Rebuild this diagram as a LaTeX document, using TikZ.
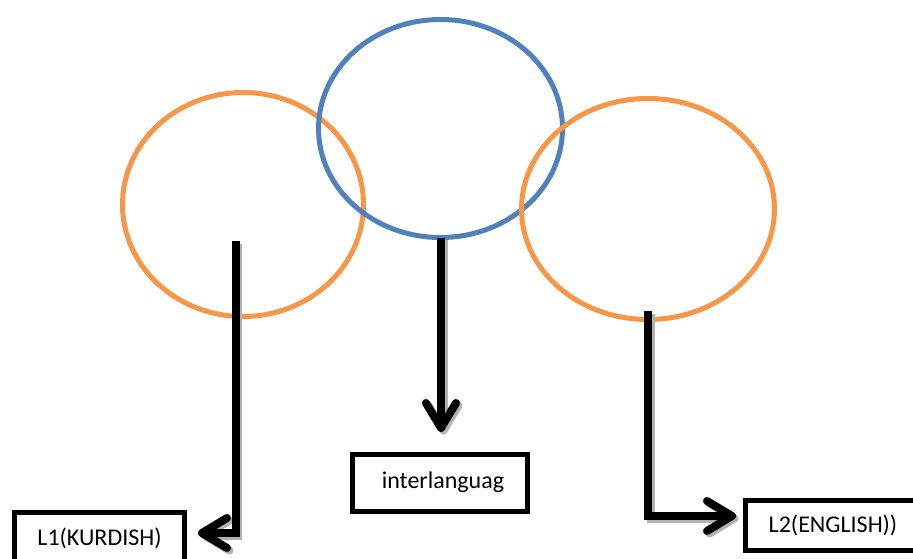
\documentclass[tikz,border=0pt]{standalone}
\usepackage{fontspec}
\setmainfont{Carlito}
\usetikzlibrary{shapes.geometric,arrows.meta}
\definecolor{offorange}{HTML}{F79646}
\definecolor{offblue}{HTML}{4F81BD}
\tikzset{
  circ/.style={ellipse, draw, line width=5pt, inner sep=0pt},
  labelbox/.style={rectangle, draw=black, line width=5pt, inner sep=0pt, font=\fontsize{24}{28}\selectfont},
  bigarrow/.style={line width=8pt, -{Straight Barb[length=25pt,width=30pt,round]}},
  shadowarrow/.style={bigarrow, draw=black!30, transform canvas={shift={(2.5,2.5)}}}
}
\begin{document}
\begin{tikzpicture}[x=1pt,y=-1pt]
\useasboundingbox (0,0) rectangle (913,559);
\clip (0,0) rectangle (913,559);
\fill[white] (0,0) rectangle (913,559);
% circles
\node[circ, draw=offorange, minimum width=241pt, minimum height=224pt] (left) at (243,204.5) {};
\node[circ, draw=offblue, minimum width=244pt, minimum height=218pt] (mid) at (440.5,128.5) {};
\node[circ, draw=offorange, minimum width=253pt, minimum height=221pt] (right) at (648,209) {};
% boxes
\node[labelbox, minimum width=170pt, minimum height=52pt] (k1) at (99.5,538) {L1(KURDISH)};
\node[labelbox, minimum width=175pt, minimum height=57pt] (il) at (439.5,482.5) {\hspace*{7pt}interlanguag};
\node[labelbox, minimum width=175pt, minimum height=50pt] (k2) at (833,525.5) {L2(ENGLISH))};
% arrow coordinates
\coordinate (ls) at (235.5,241);
\coordinate (le) at (198,533);
\coordinate (ms) at (441,237.5);
\coordinate (me) at (441,432);
\coordinate (rs) at (648,311);
\coordinate (re) at (736,516);
% shadows
\draw[shadowarrow] (ls) |- (le);
\draw[shadowarrow] (ms) -- (me);
\draw[shadowarrow] (rs) |- (re);
% arrows
\draw[bigarrow] (ls) |- (le);
\draw[bigarrow] (ms) -- (me);
\draw[bigarrow] (rs) |- (re);
\end{tikzpicture}
\end{document}
